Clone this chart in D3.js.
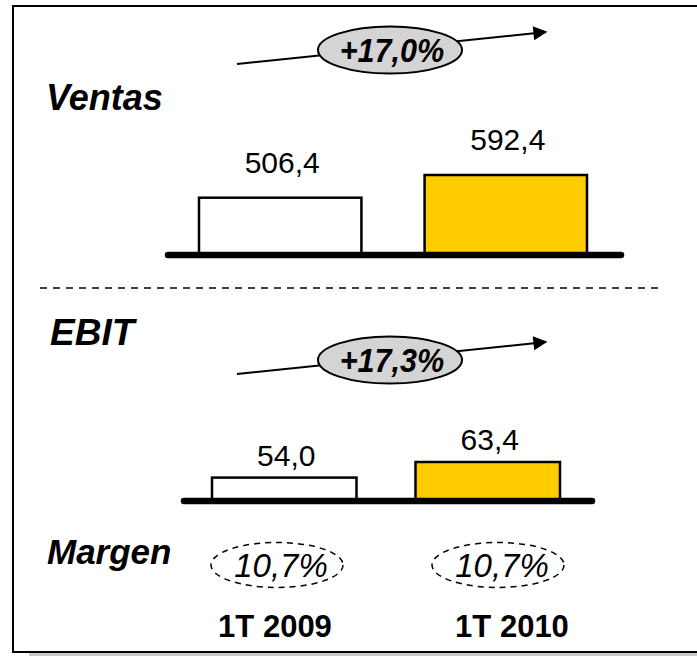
<!DOCTYPE html>
<html><head><meta charset="utf-8">
<script src="https://cdn.jsdelivr.net/npm/d3@7"></script>
<style>html,body{margin:0;padding:0;background:#fff;}svg{display:block;}</style>
</head><body>
<script>
const categories = ["1T 2009", "1T 2010"];
const ventas = [506.4, 592.4];
const ebit = [54.0, 63.4];
const margen = [10.7, 10.7];
const growthLabels = ["+17,0%", "+17,3%"];
const sectionTitles = ["Ventas", "EBIT", "Margen"];
const barColors = ["#FFFFFF", "#FFCC00"];

const W = 697, H = 656;
const FONT = "'Liberation Sans', Arial, sans-serif";
const loc = d3.formatLocale({decimal: ",", thousands: ".", grouping: [3], currency: ["", "€"]});
const f1 = loc.format(".1f");

const svg = d3.select("body").append("svg").attr("width", W).attr("height", H);

const defs = svg.append("defs");
defs.append("marker").attr("id", "ah").attr("viewBox", "0 0 10 10")
  .attr("refX", 9).attr("refY", 5)
  .attr("markerUnits", "userSpaceOnUse").attr("orient", "auto")
  .attr("markerWidth", 17).attr("markerHeight", 14)
  .append("path").attr("d", "M0,0 L10,5 L0,10 Z").attr("fill", "#000");

// shadow + frame
svg.append("rect").attr("x", 29).attr("y", 653).attr("width", W).attr("height", 3).attr("fill", "#c8c8c8");
svg.append("rect").attr("x", 13).attr("y", 6).attr("width", W + 20).attr("height", 646)
  .attr("fill", "none").attr("stroke", "#000").attr("stroke-width", 2);

function panel(values, opt) {
  const x = d3.scaleBand().domain(categories).range(opt.xr).paddingInner(opt.pad).paddingOuter(0);
  const y = d3.scaleLinear().domain(opt.dom).range([opt.base, opt.top]);
  const g = svg.append("g");
  g.selectAll("rect.bar").data(values).join("rect").attr("class", "bar")
    .attr("x", (d, i) => x(categories[i]))
    .attr("width", x.bandwidth())
    .attr("y", d => y(d))
    .attr("height", d => opt.base - y(d))
    .attr("fill", (d, i) => barColors[i])
    .attr("stroke", "#000").attr("stroke-width", 2.5);
  g.append("line").attr("x1", opt.line[0]).attr("x2", opt.line[1])
    .attr("y1", opt.base + 1).attr("y2", opt.base + 1)
    .attr("stroke", "#000").attr("stroke-width", 6.5).attr("stroke-linecap", "round");
  g.selectAll("text.val").data(values).join("text").attr("class", "val")
    .attr("x", (d, i) => x(categories[i]) + x.bandwidth() / 2 + 2)
    .attr("y", d => y(d) - opt.lab)
    .attr("text-anchor", "middle").attr("font-family", FONT).attr("font-size", 30)
    .attr("fill", "#000").text(d => f1(d));
}

function growth(label, cy) {
  const g = svg.append("g");
  g.append("line").attr("x1", 237).attr("y1", cy + 14).attr("x2", 546).attr("y2", cy - 18)
    .attr("stroke", "#000").attr("stroke-width", 2).attr("marker-end", "url(#ah)");
  g.append("ellipse").attr("cx", 390).attr("cy", cy).attr("rx", 72).attr("ry", 23.5)
    .attr("fill", "#d4d4d4").attr("stroke", "#000").attr("stroke-width", 2);
  g.append("text").attr("transform", `translate(392,${cy + 12}) scale(0.9,1)`)
    .attr("text-anchor", "middle")
    .attr("font-family", FONT).attr("font-weight", "bold").attr("font-style", "italic")
    .attr("font-size", 34).text(label);
}

function title(t, x, y, s) {
  svg.append("text").attr("x", x).attr("y", y).attr("font-family", FONT)
    .attr("font-weight", "bold").attr("font-style", "italic").attr("font-size", s).text(t);
}

// Ventas
growth(growthLabels[0], 50);
title(sectionTitles[0], 46, 110, 36);
panel(ventas, {xr: [199, 587], pad: 0.28, dom: [293, 592.4], base: 254, top: 175, line: [168, 621], lab: 25});

// separator
svg.append("line").attr("x1", 40).attr("x2", 662).attr("y1", 288).attr("y2", 288)
  .attr("stroke", "#000").attr("stroke-width", 1.3).attr("stroke-dasharray", "7,6");

// EBIT
title(sectionTitles[1], 50, 345, 37);
growth(growthLabels[1], 360);
panel(ebit, {xr: [212, 560], pad: 0.29, dom: [40.5, 63.4], base: 500, top: 462, line: [184, 592], lab: 12});

// Margen
title(sectionTitles[2], 47, 564, 35);
const xm = d3.scalePoint().domain(categories).range([277, 498]);
svg.selectAll("ellipse.m").data(margen).join("ellipse").attr("class", "m")
  .attr("cx", (d, i) => xm(categories[i])).attr("cy", 565).attr("rx", 66).attr("ry", 22.5)
  .attr("fill", "none").attr("stroke", "#000").attr("stroke-width", 1.5).attr("stroke-dasharray", "6,5");
svg.selectAll("text.m").data(margen).join("text").attr("class", "m")
  .attr("x", (d, i) => xm(categories[i]) + 4).attr("y", 577).attr("text-anchor", "middle")
  .attr("font-family", FONT).attr("font-style", "italic").attr("font-size", 33)
  .text(d => f1(d) + "%");

// category labels
const xc = d3.scalePoint().domain(categories).range([275, 512]);
svg.selectAll("text.cat").data(categories).join("text").attr("class", "cat")
  .attr("x", d => xc(d)).attr("y", 637).attr("text-anchor", "middle")
  .attr("font-family", FONT).attr("font-weight", "bold").attr("font-size", 31).text(d => d);
</script>
</body></html>
